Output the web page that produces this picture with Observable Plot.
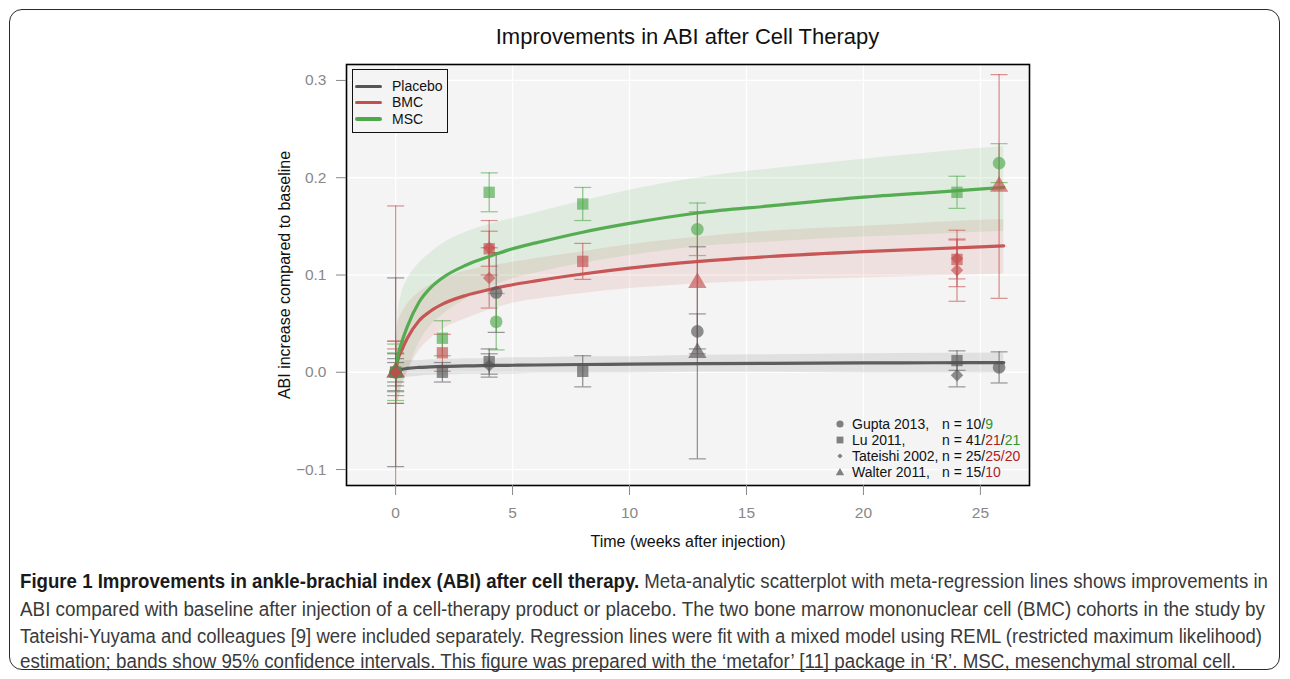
<!DOCTYPE html>
<html><head><meta charset="utf-8">
<script src="https://cdn.jsdelivr.net/npm/d3@7"></script>
<script src="https://cdn.jsdelivr.net/npm/@observablehq/plot@0.6"></script>
<style>
html,body{margin:0;padding:0;background:#fff;}
#wrap{position:relative;width:1290px;height:679px;overflow:hidden;font-family:"Liberation Sans",Arial,Helvetica,sans-serif;}
#border{position:absolute;left:9px;top:9px;width:1271px;height:661px;border:1.5px solid #2a2a2a;border-radius:13px;box-sizing:border-box;}
#title{position:absolute;left:346px;width:683px;top:24px;text-align:center;font-size:22px;line-height:26px;color:#111;}
#chart{position:absolute;left:0;top:0;}
.lg1{position:absolute;left:352px;top:69px;width:96px;height:64px;border:1px solid #111;background:#f4f4f4;box-sizing:border-box;}
.lg1 .row{position:absolute;left:0;height:16px;line-height:16px;font-size:14px;color:#111;}
.lg1 .sw{position:absolute;left:2px;top:6.5px;width:27px;height:3.5px;border-radius:2px;}
.lg1 .tx{position:absolute;left:39px;top:0;white-space:nowrap;}
.lg2 .row{position:absolute;height:16px;line-height:16px;font-size:14px;color:#111;white-space:nowrap;}
.cap{position:absolute;left:20px;height:24px;line-height:24px;font-family:"Liberation Sans",Arial,sans-serif;font-size:20px;color:#3a3a3a;white-space:nowrap;transform-origin:0 50%;}
.cap b{color:#1a1a1a;}
</style></head>
<body>
<div id="wrap">
  <div id="border"></div>
  <div id="title">Improvements in ABI after Cell Therapy</div>
  <div id="chart"></div>
  <div id="legend1"></div>
  <div id="legend2" class="lg2"></div>
  <div id="caption"></div>
</div>
<script>
// ---------- data ----------
const groupNames = ["Placebo", "BMC", "MSC"];
const groupColors = ["#555555", "#c44f4e", "#4ea94b"];
const studyNames = ["Gupta 2013", "Lu 2011", "Tateishi 2002", "Walter 2011"];
const studyN = ["10/9", "41/21/21", "25/25/20", "15/10"];

// observed points: study, group, week, mean ABI increase, 95% CI half-width
const ptStudy = ["Gupta 2013","Gupta 2013","Lu 2011","Lu 2011","Lu 2011","Tateishi 2002","Tateishi 2002","Tateishi 2002","Walter 2011","Walter 2011",
  "Lu 2011","Lu 2011","Lu 2011",
  "Lu 2011","Lu 2011","Lu 2011","Tateishi 2002","Tateishi 2002","Tateishi 2002","Gupta 2013","Gupta 2013",
  "Lu 2011","Lu 2011","Lu 2011",
  "Gupta 2013","Gupta 2013","Walter 2011","Walter 2011",
  "Lu 2011","Lu 2011","Lu 2011","Tateishi 2002","Tateishi 2002","Tateishi 2002",
  "Gupta 2013","Gupta 2013","Walter 2011"];
const ptGroup = ["Placebo","MSC","Placebo","BMC","MSC","Placebo","BMC","BMC","Placebo","BMC",
  "Placebo","BMC","MSC",
  "Placebo","BMC","MSC","Placebo","BMC","BMC","Placebo","MSC",
  "Placebo","BMC","MSC",
  "Placebo","MSC","Placebo","BMC",
  "Placebo","BMC","MSC","Placebo","BMC","BMC",
  "Placebo","MSC","BMC"];
const ptWeek = [0,0,0,0,0,0,0,0,0,0,
  2,2,2,
  4,4,4,4,4,4,4.3,4.3,
  8,8,8,
  12.9,12.9,12.9,12.9,
  24,24,24,24,24,24,
  25.8,25.8,25.8];
const ptMean = [0,0,0,0,0,0,0,0,0,0,
  0.000,0.020,0.035,
  0.011,0.127,0.185,0.007,0.128,0.097,0.082,0.052,
  0.001,0.114,0.173,
  0.042,0.147,0.020,0.092,
  0.012,0.116,0.185,-0.003,0.117,0.105,
  0.005,0.215,0.191];
const ptHalf = [0.010,0.020,0.014,0.024,0.029,0.019,0.032,0.032,0.097,0.171,
  0.010,0.019,0.018,
  0.013,0.018,0.020,0.012,0.028,0.031,0.041,0.029,
  0.016,0.0185,0.017,
  0.018,0.027,0.109,0.073,
  0.010,0.020,0.0165,0.012,0.029,0.032,
  0.016,0.020,0.115];

// meta-regression fits
const fitWeek    = [0, 0.1, 0.25, 0.5, 1, 1.5, 2, 3, 4, 5, 6, 8, 10, 13, 16, 20, 23, 26];
const placeboFit = [0, 0.002, 0.003, 0.004, 0.005, 0.0055, 0.006, 0.0065, 0.007, 0.0072, 0.0075, 0.008, 0.0083, 0.0088, 0.0092, 0.0096, 0.0098, 0.010];
const placeboLo  = [0, -0.005, -0.005, -0.005, -0.004, -0.003, -0.003, -0.002, -0.002, -0.002, -0.001, -0.001, -0.001, 0.000, 0.000, -0.001, -0.001, -0.001];
const placeboHi  = [0, 0.009, 0.011, 0.012, 0.012, 0.013, 0.013, 0.014, 0.014, 0.015, 0.015, 0.016, 0.016, 0.0175, 0.018, 0.019, 0.0195, 0.0198];
const bmcFit = [0, 0.013, 0.022, 0.035, 0.053, 0.063, 0.070, 0.079, 0.085, 0.090, 0.094, 0.101, 0.107, 0.114, 0.119, 0.124, 0.127, 0.130];
const bmcLo  = [0, -0.030, -0.015, 0.000, 0.022, 0.035, 0.044, 0.055, 0.064, 0.071, 0.075, 0.081, 0.086, 0.091, 0.094, 0.097, 0.099, 0.101];
const bmcHi  = [0, 0.050, 0.060, 0.070, 0.082, 0.090, 0.096, 0.104, 0.109, 0.113, 0.117, 0.124, 0.131, 0.139, 0.145, 0.150, 0.154, 0.157];
const mscFit = [0, 0.017, 0.030, 0.047, 0.072, 0.087, 0.097, 0.110, 0.119, 0.127, 0.133, 0.144, 0.153, 0.164, 0.171, 0.180, 0.185, 0.190];
const mscLo  = [0, -0.030, -0.015, 0.000, 0.030, 0.048, 0.059, 0.075, 0.087, 0.096, 0.102, 0.112, 0.120, 0.129, 0.134, 0.139, 0.142, 0.145];
const mscHi  = [0, 0.060, 0.080, 0.095, 0.112, 0.123, 0.132, 0.144, 0.152, 0.158, 0.164, 0.176, 0.187, 0.200, 0.209, 0.219, 0.226, 0.232];

const xTicks = [0, 5, 10, 15, 20, 25];
const yTicks = [-0.1, 0.0, 0.1, 0.2, 0.3];

// ---------- build tables ----------
const colorOf = g => groupColors[groupNames.indexOf(g)];
const points = ptStudy.map((s, i) => ({
  study: s, group: ptGroup[i], week: ptWeek[i], mean: ptMean[i],
  lo: ptMean[i] - ptHalf[i], hi: ptMean[i] + ptHalf[i], color: colorOf(ptGroup[i])
}));
const fits = [];
[[placeboFit, placeboLo, placeboHi, "Placebo"], [bmcFit, bmcLo, bmcHi, "BMC"], [mscFit, mscLo, mscHi, "MSC"]]
  .forEach(([f, lo, hi, g]) => fitWeek.forEach((w, i) => fits.push({group: g, week: w, fit: f[i], lo: lo[i], hi: hi[i], color: colorOf(g)})));

const capSymbol = {draw(ctx) { ctx.moveTo(-8.5, 0); ctx.lineTo(8.5, 0); }};
const diamondSymbol = {draw(ctx, size) { const h = Math.sqrt(size / 2); ctx.moveTo(0, -h); ctx.lineTo(h, 0); ctx.lineTo(0, h); ctx.lineTo(-h, 0); ctx.closePath(); }};
const symbolRange = ["circle", "square", diamondSymbol, "triangle"];
const symbolR = {"Gupta 2013": 6.3, "Lu 2011": 6.4, "Tateishi 2002": 5.0, "Walter 2011": 6.8};

const caps = points.flatMap(p => [{...p, y: p.lo}, {...p, y: p.hi}]);

const chart = Plot.plot({
  width: 1290, height: 560,
  marginLeft: 346, marginRight: 261, marginTop: 64, marginBottom: 75,
  x: {domain: [-2.1, 27.1]},
  y: {domain: [-0.1164, 0.3164]},
  r: {type: "identity"},
  color: {type: "identity"},
  symbol: {domain: studyNames, range: symbolRange},
  style: {background: "transparent", fontFamily: "Liberation Sans, Arial, Helvetica, sans-serif", fontSize: "15.5px", overflow: "visible"},
  marks: [
    Plot.frame({fill: "#f4f4f4", stroke: null}),
    Plot.gridX(xTicks, {stroke: "#fff", strokeOpacity: 1, strokeWidth: 1.3}),
    Plot.gridY(yTicks, {stroke: "#fff", strokeOpacity: 1, strokeWidth: 1.3}),
    Plot.areaY(fits, {x: "week", y1: "lo", y2: "hi", z: "group", fill: "color", fillOpacity: 0.12, curve: "monotone-x", clip: true}),
    Plot.ruleX(points, {x: "week", y1: "lo", y2: "hi", stroke: "color", strokeOpacity: 0.65, strokeWidth: 1.2, clip: true}),
    Plot.dot(caps, {x: "week", y: "y", symbol: capSymbol, fill: "none", stroke: "color", strokeOpacity: 0.6, strokeWidth: 1.2, clip: true}),
    Plot.line(fits, {x: "week", y: "fit", z: "group", stroke: "color", strokeWidth: 3.2, curve: "monotone-x", strokeOpacity: 0.95}),
    Plot.dot(points, {x: "week", y: "mean", symbol: "study", r: d => symbolR[d.study], fill: "color", fillOpacity: 0.65, stroke: "none"}),
    Plot.frame({stroke: "#000", strokeWidth: 1.6}),
    Plot.axisX(xTicks, {tickSize: 10, tickPadding: 11, color: "#888", fontSize: 15.5, label: null}),
    Plot.axisY(yTicks, {tickSize: 10, tickPadding: 10, color: "#888", fontSize: 15.5, label: null, tickFormat: d3.format(".1f")}),
    Plot.text(["Time (weeks after injection)"], {frameAnchor: "bottom", dy: 61, fontSize: 16, fill: "#111"}),
    Plot.text(["ABI increase compared to baseline"], {frameAnchor: "left", dx: -62, rotate: -90, textAnchor: "middle", fontSize: 16, fill: "#111"})
  ]
});
document.getElementById("chart").appendChild(chart);

// ---------- legends ----------
const lg1 = document.getElementById("legend1");
lg1.className = "lg1";
groupNames.forEach((g, i) => {
  const row = document.createElement("div");
  row.className = "row";
  row.style.top = (8 + 16.3 * i) + "px";
  row.innerHTML = `<span class="sw" style="background:${groupColors[i]}"></span><span class="tx">${g}</span>`;
  lg1.appendChild(row);
});

const nColors = [["#111", "#2f962f"], ["#111", "#b02222", "#2f962f"], ["#111", "#b02222"], ["#111", "#b02222"]];
const lgSymbols = [
  `<circle cx="6" cy="6" r="3.6" fill="#808080"/>`,
  `<rect x="2.6" y="2.6" width="6.8" height="6.8" fill="#808080"/>`,
  `<path d="M6 3.4 L8.6 6 L6 8.6 L3.4 6Z" fill="#808080"/>`,
  `<path d="M6 2 L10.2 9.3 L1.8 9.3Z" fill="#808080"/>`
];
const lg2 = document.getElementById("legend2");
studyNames.forEach((s, i) => {
  const top = 416 + 16 * i;
  const parts = studyN[i].split("/");
  let nHtml;
  if (i === 2) nHtml = `<span style="color:#111">25/</span><span style="color:#b02222">25/20</span>`;
  else nHtml = parts.map((p, j) => `<span style="color:${nColors[i][j]}">${p}</span>`).join(`<span style="color:#111">/</span>`);
  const row = document.createElement("div");
  row.className = "row";
  row.style.top = top + "px";
  row.style.left = "834px";
  row.style.width = "200px";
  row.innerHTML = `<svg width="12" height="12" style="position:absolute;left:0;top:2px">${lgSymbols[i]}</svg>` +
    `<span style="position:absolute;left:18px">${s},</span>` +
    `<span style="position:absolute;left:108px">n = ${nHtml}</span>`;
  lg2.appendChild(row);
});

// ---------- caption ----------
const captionLines = [
  `<b>Figure 1 Improvements in ankle-brachial index (ABI) after cell therapy.</b> Meta-analytic scatterplot with meta-regression lines shows improvements in`,
  `ABI compared with baseline after injection of a cell-therapy product or placebo. The two bone marrow mononuclear cell (BMC) cohorts in the study by`,
  `Tateishi-Yuyama and colleagues [9] were included separately. Regression lines were fit with a mixed model using REML (restricted maximum likelihood)`,
  `estimation; bands show 95% confidence intervals. This figure was prepared with the ‘metafor’ [11] package in ‘R’. MSC, mesenchymal stromal cell.`
];
const captionTargets = [1248, 1245, 1242, 1216];
const captionCenters = [581, 609, 636, 661];
const capDiv = document.getElementById("caption");
captionLines.forEach((html, i) => {
  const d = document.createElement("div");
  d.className = "cap";
  d.style.top = (captionCenters[i] - 12) + "px";
  d.innerHTML = html;
  capDiv.appendChild(d);
  const w = d.getBoundingClientRect().width;
  d.style.transform = `scaleX(${captionTargets[i] / w})`;
});
</script>
</body></html>
